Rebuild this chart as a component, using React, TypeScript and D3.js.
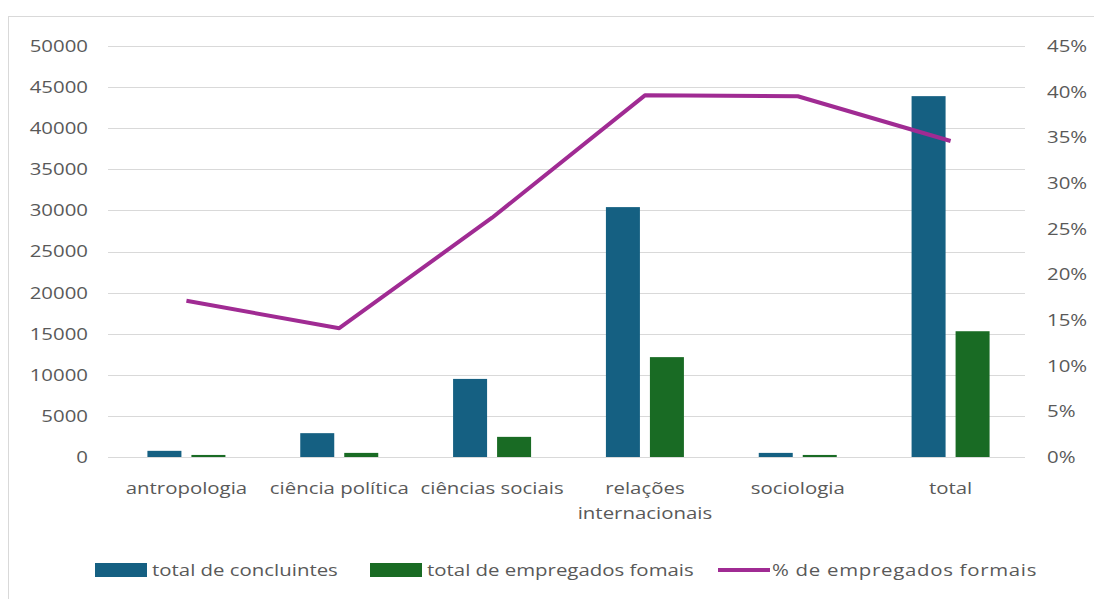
import React from "react";
import * as d3 from "d3";

const categories = ["antropologia", "ciência política", "ciências sociais", "relações internacionais", "sociologia", "total"];
const concluintes = [750, 2900, 9500, 30400, 500, 43900];
const empregados = [250, 500, 2450, 12150, 250, 15300];
const pctEmpregados = [0.171, 0.141, 0.262, 0.396, 0.395, 0.346];
const leftTicks = [0, 5000, 10000, 15000, 20000, 25000, 30000, 35000, 40000, 45000, 50000];
const rightTicks = [0, 0.05, 0.1, 0.15, 0.2, 0.25, 0.3, 0.35, 0.4, 0.45];
const seriesNames = ["total de concluintes", "total de empregados fomais", "% de empregados formais"];

const W = 1094, H = 599;
const left = 108, right = 1025, top = 46, bottom = 457;
const BLUE = "#156082", GREEN = "#196B24", PURPLE = "#A02B93";
const TXT = "#595959";
const FONT = "'Open Sans', 'Liberation Sans', sans-serif";
const SX = 1.2;
const FS = 17;

function T({ x, y, anchor = "start", children, size = FS, ls = 0 }: { x: number; y: number; anchor?: string; children: React.ReactNode; size?: number; ls?: number }) {
  return (
    <text transform={`translate(${x},${y}) scale(${SX},1)`} dy="0.35em" textAnchor={anchor} fontSize={size} fill={TXT} letterSpacing={ls}>
      {children}
    </text>
  );
}

export default function App() {
  const x = d3.scaleBand<string>().domain(categories).range([left, right]);
  const yL = d3.scaleLinear().domain([0, 50000]).range([bottom, top]);
  const yR = d3.scaleLinear().domain([0, 0.45]).range([bottom, top]);
  const barW = 34, gap = 10;
  const cxOf = (c: string) => x(c)! + x.bandwidth() / 2 + 2;
  const line = d3.line<number>()
    .x((_, i) => cxOf(categories[i]))
    .y((d) => yR(d));

  const splitLabel = (c: string) => c === "relações internacionais" ? ["relações", "internacionais"] : [c];

  return (
    <svg width={W} height={H} style={{ position: "absolute", left: 0, top: 0, background: "#fff" }} fontFamily={FONT}>
      <rect x={8.5} y={16.5} width={1100} height={600} fill="#fff" stroke="#d9d9d9" />
      {leftTicks.map((t) => (
        <line key={t} x1={left} x2={right} y1={Math.round(yL(t)) + 0.5} y2={Math.round(yL(t)) + 0.5} stroke="#d9d9d9" strokeWidth={1} />
      ))}
      {leftTicks.map((t) => (
        <T key={"l" + t} x={88} y={yL(t)} anchor="end">{t}</T>
      ))}
      {rightTicks.map((t) => (
        <T key={"r" + t} x={1047} y={yR(t)}>{Math.round(t * 100) + "%"}</T>
      ))}
      {categories.map((c, i) => {
        const cx = cxOf(c);
        return (
          <g key={c}>
            <rect x={cx - gap / 2 - barW} y={yL(concluintes[i])} width={barW} height={bottom - yL(concluintes[i])} fill={BLUE} />
            <rect x={cx + gap / 2} y={yL(empregados[i])} width={barW} height={bottom - yL(empregados[i])} fill={GREEN} />
          </g>
        );
      })}
      <path d={line(pctEmpregados)!} fill="none" stroke={PURPLE} strokeWidth={4} strokeLinejoin="round" />
      {categories.map((c) => {
        const cx = cxOf(c);
        return splitLabel(c).map((s, j) => (
          <T key={c + j} x={cx} y={488 + j * 25} anchor="middle">{s}</T>
        ));
      })}
      <rect x={95} y={563} width={52} height={14} fill={BLUE} />
      <T x={152} y={570}>{seriesNames[0]}</T>
      <rect x={370} y={563} width={52} height={14} fill={GREEN} />
      <T x={427} y={570}>{seriesNames[1]}</T>
      <line x1={718} x2={770} y1={570} y2={570} stroke={PURPLE} strokeWidth={4} />
      <T x={772} y={570} ls={0.6}>{seriesNames[2]}</T>
    </svg>
  );
}
